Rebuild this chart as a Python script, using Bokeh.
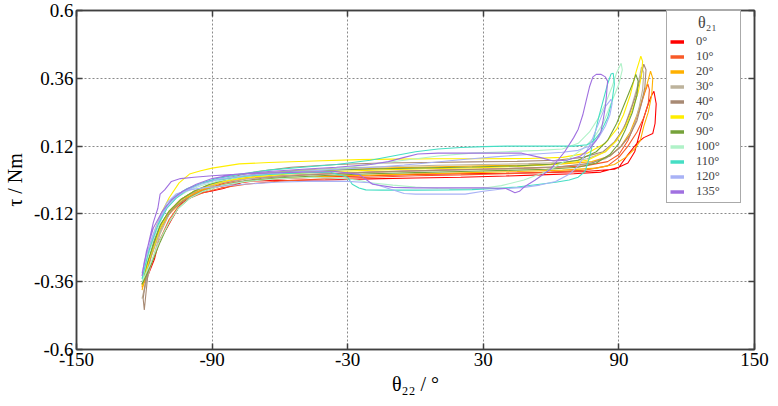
from bokeh.plotting import figure
from bokeh.models import (LinearAxis, Legend, LegendItem, FixedTicker, Range1d)
from bokeh.embed import file_html
from bokeh.resources import INLINE

# ---------------- data ----------------
x_ticks = [-150, -90, -30, 30, 90, 150]
x_tick_labels = ["-150", "-90", "-30", "30", "90", "150"]
y_ticks = [-0.6, -0.36, -0.12, 0.12, 0.36, 0.6]
y_tick_labels = ["-0.6", "-0.36", "-0.12", "0.12", "0.36", "0.6"]
labels = ["0°", "10°", "20°", "30°", "40°", "70°", "90°", "100°", "110°", "120°", "135°"]
colors = ["#FF0000", "#F85A28", "#FFB000", "#BDB39C", "#A88A74", "#FFEE00",
          "#76A23A", "#B0F2C8", "#45DEC4", "#A8B2F6", "#A070E0"]

x_0 = [-121, -119.5, -118, -116, -113.5, -110.5, -107.5, -104, -100, -94, -88, -80, -70, -55, -40, -20, 0, 20, 40, 60, 75, 88, 94, 97, 99, 101, 103, 104.5, 105.5, 106.5, 106, 105, 101, 98, 94, 90, 82, 70, 55, 40, 20, 0, -20, -40, -60, -75, -85, -90, -97.5, -104, -107.5, -110, -113.5, -115.5, -117, -119, -121]
y_0 = [-0.37, -0.33, -0.28, -0.23, -0.18, -0.13, -0.1, -0.07, -0.05, -0.035, -0.025, -0.012, -0.002, 0.006, 0.011, 0.015, 0.02, 0.022, 0.024, 0.027, 0.03, 0.038, 0.06, 0.1, 0.16, 0.22, 0.27, 0.30, 0.314, 0.27, 0.2, 0.165, 0.15, 0.13, 0.09, 0.045, 0.028, 0.022, 0.018, 0.014, 0.01, 0.007, 0.004, 0.0, -0.002, -0.004, -0.03, -0.039, -0.05, -0.085, -0.134, -0.17, -0.215, -0.28, -0.31, -0.35, -0.37]

x_10 = [-121, -119, -116, -113, -109, -104, -98, -92, -85, -75, -60, -40, -20, 0, 20, 40, 60, 75, 85, 90, 94, 97, 99.5, 101.5, 102.8, 103.5, 103, 101, 98, 94, 90, 85, 75, 60, 40, 20, 0, -20, -40, -60, -75, -86, -94, -100, -105, -109, -113, -117, -121]
y_10 = [-0.38, -0.31, -0.24, -0.17, -0.12, -0.08, -0.05, -0.03, -0.012, 0.005, 0.015, 0.022, 0.028, 0.033, 0.037, 0.04, 0.044, 0.05, 0.065, 0.09, 0.14, 0.2, 0.26, 0.31, 0.34, 0.32, 0.27, 0.22, 0.17, 0.12, 0.08, 0.05, 0.035, 0.028, 0.022, 0.018, 0.015, 0.01, 0.004, -0.004, -0.015, -0.028, -0.045, -0.065, -0.095, -0.14, -0.21, -0.3, -0.38]

x_20 = [-121, -119, -116, -113, -110, -106, -101, -95, -88, -78, -65, -50, -30, -10, 10, 30, 50, 65, 78, 86, 91, 95, 98, 100.5, 102.5, 104, 105, 104.5, 103, 101, 99.5, 97, 93, 88, 80, 65, 45, 25, 5, -15, -35, -55, -70, -82, -91, -98, -104, -109, -113, -117, -121]
y_20 = [-0.39, -0.32, -0.25, -0.18, -0.13, -0.09, -0.06, -0.035, -0.015, 0.005, 0.02, 0.03, 0.038, 0.043, 0.047, 0.05, 0.053, 0.057, 0.065, 0.085, 0.12, 0.17, 0.23, 0.29, 0.34, 0.385, 0.36, 0.3, 0.24, 0.19, 0.14, 0.11, 0.08, 0.055, 0.042, 0.035, 0.03, 0.026, 0.022, 0.018, 0.014, 0.008, 0.0, -0.012, -0.028, -0.05, -0.08, -0.12, -0.18, -0.27, -0.39]

x_30 = [-121, -119, -117, -114, -111, -107, -102, -96, -89, -80, -68, -50, -30, -10, 10, 30, 50, 65, 76, 84, 89, 93, 96, 98.5, 100, 101, 100.5, 99, 97, 94, 90, 84, 75, 60, 40, 20, 0, -20, -40, -60, -75, -86, -94, -100, -105, -109, -113, -117, -121]
y_30 = [-0.42, -0.35, -0.27, -0.2, -0.14, -0.095, -0.06, -0.035, -0.012, 0.008, 0.025, 0.036, 0.043, 0.048, 0.052, 0.055, 0.058, 0.062, 0.075, 0.1, 0.14, 0.2, 0.27, 0.34, 0.40, 0.38, 0.32, 0.26, 0.2, 0.15, 0.11, 0.075, 0.055, 0.045, 0.04, 0.036, 0.032, 0.028, 0.022, 0.014, 0.004, -0.01, -0.028, -0.05, -0.08, -0.12, -0.19, -0.3, -0.42]

x_40 = [-120, -120.5, -119.5, -118, -116, -113, -109, -104, -98, -91, -82, -70, -55, -35, -15, 5, 25, 45, 62, 74, 83, 88, 92, 95, 97.5, 99.5, 101, 102, 101.5, 100, 98, 95, 91, 86, 78, 65, 48, 28, 8, -12, -32, -52, -68, -80, -89, -96, -102, -107, -111, -115, -118, -120]
y_40 = [-0.46, -0.42, -0.36, -0.29, -0.22, -0.16, -0.11, -0.07, -0.04, -0.015, 0.01, 0.03, 0.045, 0.055, 0.06, 0.062, 0.064, 0.066, 0.07, 0.08, 0.1, 0.135, 0.18, 0.24, 0.3, 0.36, 0.41, 0.39, 0.33, 0.27, 0.21, 0.16, 0.12, 0.085, 0.06, 0.048, 0.042, 0.038, 0.034, 0.03, 0.024, 0.016, 0.006, -0.008, -0.025, -0.045, -0.07, -0.1, -0.14, -0.2, -0.3, -0.46]

x_70 = [-121, -118, -115, -112, -109, -104.6, -100, -95, -90, -78, -65, -45, -25, -10, 10, 30, 50, 65, 76, 84, 89, 92, 95, 97.5, 99.7, 100.5, 100, 98.5, 96, 93, 89, 84, 76, 62, 45, 25, 5, -15, -35, -55, -70, -82, -91, -98, -104, -109, -113, -117, -121]
y_70 = [-0.375, -0.25, -0.17, -0.11, -0.063, -0.01, 0.021, 0.033, 0.042, 0.057, 0.062, 0.067, 0.072, 0.074, 0.075, 0.075, 0.076, 0.08, 0.095, 0.13, 0.18, 0.23, 0.3, 0.38, 0.438, 0.42, 0.37, 0.31, 0.25, 0.19, 0.14, 0.1, 0.07, 0.055, 0.048, 0.043, 0.04, 0.036, 0.03, 0.022, 0.012, 0.0, -0.018, -0.04, -0.07, -0.11, -0.17, -0.26, -0.375]

x_90 = [-121, -119, -116, -113, -109, -104, -98, -91, -82, -70, -55, -35, -15, 5, 25, 45, 60, 72, 80, 85, 89, 92, 94.5, 96.5, 97.5, 98.5, 98, 96, 93, 90, 86, 80, 72, 58, 40, 20, 0, -20, -40, -60, -75, -86, -94, -100, -105, -109, -113, -117, -121]
y_90 = [-0.37, -0.3, -0.23, -0.16, -0.11, -0.07, -0.04, -0.015, 0.005, 0.02, 0.03, 0.036, 0.04, 0.043, 0.046, 0.05, 0.056, 0.07, 0.1, 0.14, 0.2, 0.26, 0.31, 0.35, 0.374, 0.35, 0.3, 0.24, 0.18, 0.13, 0.09, 0.06, 0.045, 0.038, 0.034, 0.03, 0.026, 0.022, 0.016, 0.008, -0.004, -0.02, -0.04, -0.065, -0.1, -0.15, -0.22, -0.3, -0.37]

x_100 = [-121, -119, -116, -113, -110, -106, -101, -95, -88, -78, -65, -50, -35, -20, -5, 10, 25, 40, 55, 65, 72, 77, 81, 84, 87, 89, 91, 91.5, 90, 88, 86, 83, 79, 74, 67, 58, 48, 38, 29, 20, 10, 0, -10, -20, -26, -32, -45, -60, -75, -86, -94, -100, -105, -109, -113, -117, -121]
y_100 = [-0.36, -0.29, -0.21, -0.15, -0.1, -0.065, -0.04, -0.02, -0.005, 0.01, 0.02, 0.03, 0.04, 0.055, 0.07, 0.085, 0.095, 0.1, 0.105, 0.11, 0.13, 0.17, 0.22, 0.27, 0.33, 0.38, 0.413, 0.39, 0.34, 0.3, 0.26, 0.2, 0.15, 0.11, 0.07, 0.03, 0.0, -0.02, -0.03, -0.032, -0.03, -0.025, -0.018, -0.01, 0.0, 0.005, 0.01, 0.005, -0.005, -0.02, -0.04, -0.065, -0.1, -0.15, -0.21, -0.29, -0.36]

x_110 = [-121, -119, -116, -113, -110, -106, -101, -95, -88, -78, -65, -50, -38, -30, -28, -25, -22, -15, 0, 15, 25, 35, 45, 55, 62, 68, 72, 75, 77, 79, 81, 83, 85, 86.5, 87.5, 88, 87, 85, 82, 79, 76, 70, 60, 50, 40, 30, 20, 10, 0, -10, -20, -35, -50, -65, -78, -88, -95, -101, -106, -110, -114, -118, -121]
y_110 = [-0.35, -0.28, -0.2, -0.14, -0.09, -0.055, -0.03, -0.012, 0.0, 0.012, 0.02, 0.025, 0.028, 0.01, -0.015, -0.028, -0.035, -0.036, -0.036, -0.035, -0.034, -0.03, -0.025, -0.015, -0.008, 0.0, 0.01, 0.03, 0.08, 0.15, 0.22, 0.28, 0.34, 0.375, 0.378, 0.34, 0.28, 0.22, 0.17, 0.14, 0.125, 0.12, 0.12, 0.12, 0.12, 0.118, 0.115, 0.11, 0.1, 0.085, 0.07, 0.055, 0.045, 0.035, 0.02, 0.005, -0.012, -0.035, -0.065, -0.1, -0.16, -0.25, -0.35]

x_120 = [-121, -119, -116, -113, -110, -106, -100, -94, -86, -76, -62, -45, -30, -20, -12, -5, 0, 10, 22, 30, 40, 48, 55, 62, 68, 72, 75, 78, 80, 82, 84, 86, 86.5, 87, 86, 84, 81, 77, 72, 65, 55, 45, 35, 25, 15, 5, -5, -15, -30, -45, -60, -75, -87, -95, -101, -106, -110, -114, -118, -121]
y_120 = [-0.33, -0.26, -0.19, -0.13, -0.08, -0.05, -0.035, -0.028, -0.022, -0.015, -0.008, -0.004, -0.005, -0.01, -0.03, -0.048, -0.05, -0.05, -0.05, -0.04, -0.03, -0.026, -0.018, -0.005, 0.02, 0.05, 0.09, 0.14, 0.18, 0.22, 0.26, 0.28, 0.286, 0.27, 0.23, 0.19, 0.15, 0.12, 0.105, 0.098, 0.093, 0.088, 0.082, 0.075, 0.068, 0.06, 0.053, 0.047, 0.04, 0.033, 0.026, 0.016, 0.003, -0.015, -0.035, -0.06, -0.095, -0.15, -0.24, -0.33]

x_135 = [-121, -120, -118, -116, -114, -113, -111, -108, -104, -98, -90, -80, -65, -50, -35, -25, -19, -10, 0, 10, 20, 30, 40, 44, 46, 48, 53, 60, 66, 70, 72, 74, 75.5, 77, 78.5, 80, 82, 84, 85, 84.5, 84, 83, 82, 80, 77, 73, 67, 61, 55, 47, 40, 30, 20, 10, 1, -5, -12, -20, -35, -50, -65, -80, -90, -97, -103, -108, -112, -116, -119, -121]
y_135 = [-0.34, -0.29, -0.22, -0.15, -0.1, -0.05, -0.035, -0.005, 0.005, 0.01, 0.015, 0.02, 0.025, 0.028, 0.03, 0.02, -0.015, -0.026, -0.028, -0.028, -0.028, -0.028, -0.03, -0.045, -0.04, -0.025, 0.0, 0.04, 0.1, 0.15, 0.18, 0.23, 0.28, 0.33, 0.365, 0.374, 0.374, 0.365, 0.35, 0.3, 0.26, 0.21, 0.17, 0.14, 0.11, 0.085, 0.07, 0.067, 0.08, 0.095, 0.095, 0.095, 0.095, 0.095, 0.092, 0.08, 0.065, 0.055, 0.045, 0.038, 0.03, 0.02, 0.005, -0.015, -0.04, -0.07, -0.11, -0.17, -0.25, -0.34]

series_x = [x_0, x_10, x_20, x_30, x_40, x_70, x_90, x_100, x_110, x_120, x_135]
series_y = [y_0, y_10, y_20, y_30, y_40, y_70, y_90, y_100, y_110, y_120, y_135]

# ---------------- figure ----------------
FONT = "Liberation Serif"
AX = "#404040"
p = figure(width=778, height=406, output_backend="svg", toolbar_location=None,
           x_range=Range1d(-150, 150), y_range=Range1d(-0.6, 0.6),
           min_border_left=74, min_border_right=24, min_border_top=10, min_border_bottom=57)
p.background_fill_color = "white"
p.border_fill_color = "white"
p.outline_line_color = AX
p.outline_line_width = 1.5

for ax in (p.xaxis[0], p.yaxis[0]):
    ax.major_label_text_font = FONT
    ax.major_label_text_font_size = "19px"
    ax.major_label_text_color = "#000000"
    ax.axis_label_text_font = FONT
    ax.axis_label_text_font_size = "20px"
    ax.axis_label_text_font_style = "normal"
    ax.axis_label_text_color = "#000000"
    ax.axis_line_color = AX
    ax.axis_line_width = 1.5
    ax.major_tick_in = 6
    ax.major_tick_out = 0
    ax.major_tick_line_color = AX
    ax.major_tick_line_width = 1.5
    ax.minor_tick_line_color = None
    ax.major_label_standoff = 3
p.xaxis[0].axis_label_standoff = 4
p.yaxis[0].axis_label_standoff = 5

p.xaxis[0].ticker = FixedTicker(ticks=x_ticks)
p.yaxis[0].ticker = FixedTicker(ticks=y_ticks)
p.xaxis[0].major_label_overrides = dict(zip(x_ticks, x_tick_labels))
p.yaxis[0].major_label_overrides = dict(zip(y_ticks, y_tick_labels))
p.xaxis[0].axis_label = "θ₂₂ / °"
p.yaxis[0].axis_label = "τ / Nm"

# inward ticks on the right and top sides (no labels)
def side_axis(ticks):
    return LinearAxis(ticker=FixedTicker(ticks=ticks),
                      major_label_text_color=None, major_label_text_font_size="1px",
                      major_tick_in=6, major_tick_out=0, major_label_standoff=0,
                      axis_line_color=AX, axis_line_width=1.5,
                      major_tick_line_color=AX, major_tick_line_width=1.5,
                      minor_tick_line_color=None)

p.add_layout(side_axis(y_ticks), "right")
p.add_layout(side_axis(x_ticks), "above")

p.xgrid.ticker = FixedTicker(ticks=x_ticks[1:-1])
p.ygrid.ticker = FixedTicker(ticks=y_ticks[1:-1])
for g in (p.xgrid[0], p.ygrid[0]):
    g.grid_line_color = "#8a8a8a"
    g.grid_line_dash = "2 2"
    g.grid_line_width = 1

items = []
for lab, col, xs, ys in zip(labels, colors, series_x, series_y):
    p.line(xs, ys, line_color=col, line_width=1.1)
    # single-point line: draws nothing in the plot, gives a thick legend swatch
    swatch = p.line(x=xs[:1], y=ys[:1], line_color=col, line_width=3.5)
    items.append(LegendItem(label=lab, renderers=[swatch]))

legend = Legend(items=items, location=(590, 146),
                title="\u2003\u00a0\u00a0\u00a0θ₂₁",
                title_text_font=FONT, title_text_font_size="16px",
                title_text_font_style="normal", title_standoff=2,
                label_text_font=FONT, label_text_font_size="12.5px",
                label_height=13, glyph_height=13, glyph_width=14,
                label_width=41, label_standoff=12, spacing=0, padding=3, margin=0,
                border_line_color="#555555", border_line_width=1,
                background_fill_color="white", background_fill_alpha=1.0)
p.add_layout(legend, "center")

open("out.html", "w").write(file_html(p, INLINE))
